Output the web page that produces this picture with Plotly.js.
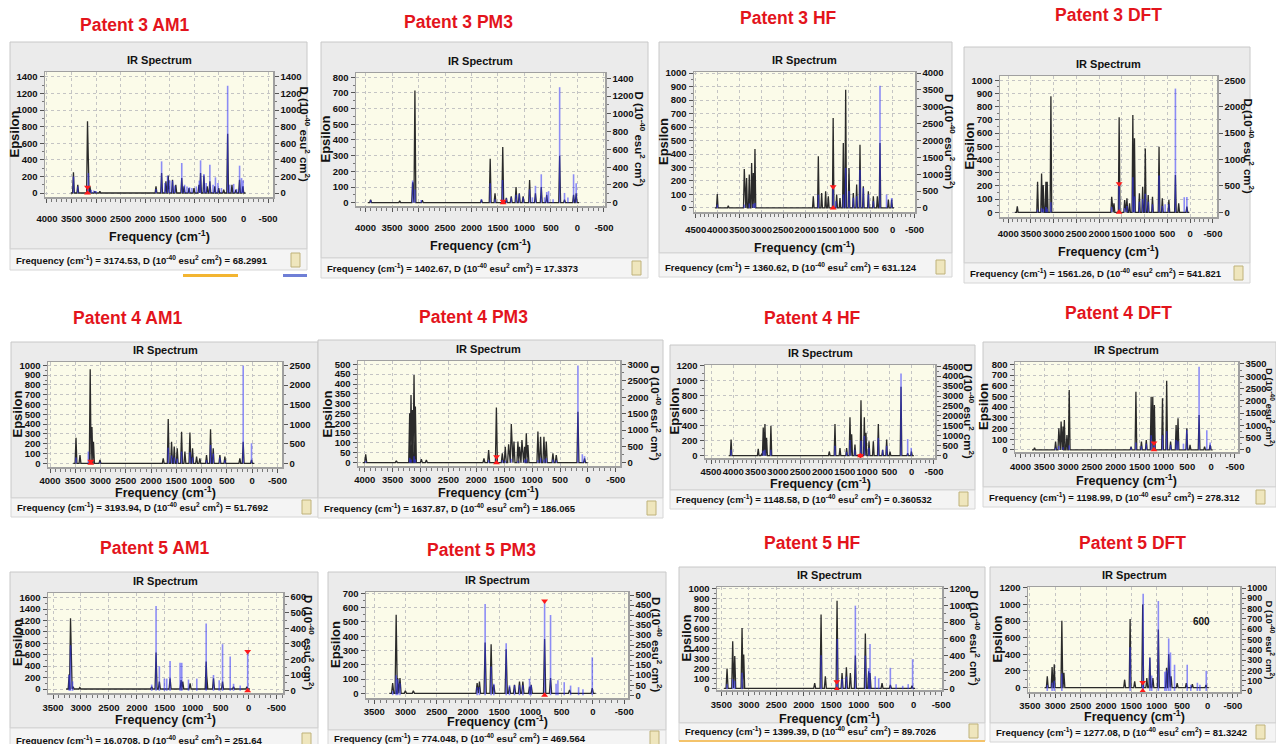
<!DOCTYPE html>
<html><head><meta charset="utf-8">
<script src="https://cdn.plot.ly/plotly-3.0.1.min.js"></script>
<style>html,body{margin:0;padding:0;background:#fff;}#chart{width:1276px;height:744px;}</style>
</head><body><div id="chart"></div>
<script>
// ---------------- DATA ----------------
const panelTitles = ["Patent 3 AM1","Patent 3 PM3","Patent 3 HF","Patent 3 DFT",
                     "Patent 4 AM1","Patent 4 PM3","Patent 4 HF","Patent 4 DFT",
                     "Patent 5 AM1","Patent 5 PM3","Patent 5 HF","Patent 5 DFT"];
const selFreq = [3174.53,1402.67,1360.62,1561.26,3193.94,1637.87,1148.58,1198.99,16.0708,774.048,1399.39,1277.08];
const selD    = [68.2991,17.3373,631.124,541.821,51.7692,186.065,0.360532,278.312,251.64,469.564,89.7026,81.3242];

// Patent 3 AM1
const p3am1_peakFreq = [3461,3373,3175,3125,3024,2923,1781,1667,1579,1532,1445,1378,1257,1210,1109,1008,907,874,806,739,685,585,504,403,323,235,155,81,13];
const p3am1_peakEps  = [249,100,865,80,20,20,80,240,140,210,160,100,180,80,60,60,100,240,210,80,140,80,60,40,715,100,40,160,80];
const p3am1_stickFreq = [3461,3373,3175,3160,3100,3050,3000,1781,1667,1600,1545,1500,1445,1400,1257,1200,1150,1100,1050,960,900,874,806,760,685,620,571,520,450,323,280,200,140,80,40,10];
const p3am1_stickD    = [200,80,68,240,40,30,25,50,382,120,209,150,150,90,362,100,80,70,60,80,150,394,230,120,342,100,189,120,60,1294,100,110,50,330,180,150];
// Patent 3 PM3
const p3pm3_peakFreq = [3904,3355,3111,3068,2928,1812,1647,1556,1410,1342,1250,1159,1098,1025,903,793,683,580,336,244,73,24];
const p3pm3_peakEps  = [20,12,130,715,15,20,280,60,355,30,40,100,60,40,145,60,100,50,300,20,50,60];
const p3pm3_stickFreq = [3904,3111,3068,2950,1812,1647,1556,1415,1403,1342,1250,1159,1098,1025,903,850,793,683,620,580,545,460,336,244,180,73,24];
const p3pm3_stickD    = [30,250,150,30,40,220,40,255,17,50,60,90,100,60,150,60,190,320,60,120,130,40,1300,110,60,320,220];
// Patent 3 HF
const p3hf_peakFreq = [4008,3757,3391,3338,3277,3223,3185,3147,1814,1699,1623,1532,1471,1360,1280,1204,1128,1074,998,899,823,747,671,556,442,350,290,99,23];
const p3hf_peakEps  = [104,17,289,222,247,333,259,437,86,383,111,123,86,667,99,74,481,877,296,111,173,469,160,123,86,86,481,62,62];
const p3hf_stickFreq = [4008,3391,3277,3185,3147,1699,1361,1300,1128,1074,998,899,823,747,671,556,442,290,140,23];
const p3hf_stickD    = [100,100,130,120,150,395,631,200,400,1186,500,300,350,1136,600,400,200,3625,395,296];
// Patent 3 DFT
const p3dft_peakFreq = [3800,3354,3266,3230,3171,3142,3061,1725,1674,1561,1440,1390,1332,1260,1224,1116,1044,986,922,828,684,612,468,324,252,72];
const p3dft_peakEps  = [45,232,295,207,232,232,879,118,68,720,93,106,68,736,560,144,194,484,131,118,496,106,93,282,68,43];
const p3dft_stickFreq = [3354,3266,3230,3171,3142,3061,1725,1561,1440,1390,1260,1224,1116,1044,986,922,828,684,612,550,468,324,130,72];
const p3dft_stickD    = [50,80,60,100,70,190,100,542,80,120,665,300,200,250,350,200,150,696,120,150,150,2342,285,290];
// Patent 4 AM1
const p4am1_peakFreq = [3486,3407,3205,3170,3140,3012,1760,1661,1595,1542,1483,1397,1331,1232,1180,1100,1035,903,824,771,639,540,244,178,13];
const p4am1_peakEps  = [261,85,960,370,220,34,51,451,220,170,153,322,119,315,153,68,51,85,346,153,85,68,51,220,34];
const p4am1_stickFreq = [3486,3242,3194,3012,1661,1595,1542,1483,1397,1232,1180,903,824,771,639,540,178,13];
const p4am1_stickD    = [150,300,52,40,400,200,150,120,300,280,150,80,469,250,150,80,2499,512];
// Patent 4 PM3
const p4pm3_peakFreq = [3982,3433,3194,3170,3146,3116,3092,2985,2895,1863,1779,1640,1534,1481,1421,1373,1325,1254,1224,1182,1134,1104,1075,896,848,788,746,627,567,179,60];
const p4pm3_peakEps  = [42,10,251,344,268,446,285,17,14,22,64,280,47,81,93,197,107,107,81,115,81,149,90,158,132,132,107,47,39,259,22];
const p4pm3_stickFreq = [3982,3194,3170,3116,3092,1779,1638,1534,1481,1373,1254,1134,1104,896,848,788,746,627,567,179,100,60];
const p4pm3_stickD    = [50,150,100,200,100,80,186,80,60,120,60,80,120,80,150,100,140,100,70,2970,260,200];
// Patent 4 HF
const p4hf_peakFreq = [4050,3441,3366,3329,3291,3254,3157,1848,1720,1608,1459,1384,1346,1272,1137,1062,1025,957,860,748,651,561,486,239,90,5];
const p4hf_peakEps  = [215,92,18,376,421,238,398,55,421,101,101,513,284,147,742,513,307,192,192,421,78,215,55,920,32,55];
const p4hf_stickFreq = [4050,3329,3291,3157,1720,1459,1384,1272,1148,1137,1062,957,748,651,561,239,90,10];
const p4hf_stickD    = [300,250,300,300,505,200,800,300,0.36,758,1000,400,900,300,500,4130,842,400];
// Patent 4 DFT
const p4dft_peakFreq = [3706,3264,3196,3148,3108,3080,3026,2978,1680,1578,1462,1360,1258,1224,1190,1020,932,850,734,694,510,442,252,136,20];
const p4dft_peakEps  = [22,78,202,265,218,280,140,560,31,545,78,93,498,498,420,483,647,78,233,296,202,47,327,31,47];
const p4dft_stickFreq = [3264,3196,3108,2978,1680,1578,1462,1360,1258,1199,1190,1020,932,850,734,694,580,510,252,90,20];
const p4dft_stickD    = [80,150,100,180,100,300,150,250,595,278,200,595,760,200,400,350,250,800,3388,802,300];
// Patent 5 AM1
const p5am1_peakFreq = [3211,3187,3140,3020,1734,1656,1597,1405,1208,1178,1047,759,748,628,466,269,30];
const p5am1_peakEps  = [257,1238,41,23,41,640,128,187,158,128,99,479,216,187,128,41,41];
const p5am1_stickFreq = [3211,3187,3150,1734,1656,1597,1507,1465,1405,1226,1196,1076,927,759,628,526,466,329,269,150,16];
const p5am1_stickD    = [101,291,60,40,542,157,78,78,190,179,179,72,78,430,101,67,298,219,45,34,252];
// Patent 5 PM3
const p5pm3_peakFreq = [3206,3150,3126,3089,3003,2875,1854,1817,1726,1630,1587,1389,1336,1256,1176,1122,1015,989,774,679,374,11];
const p5pm3_peakEps  = [71,550,107,107,17,17,71,83,356,344,59,309,47,59,83,83,47,59,380,107,24,36];
const p5pm3_stickFreq = [3206,3150,3126,3089,1854,1817,1726,1630,1587,1389,1336,1256,1176,1122,1015,989,774,679,590,561,460,358,230,160,11];
const p5pm3_stickD    = [20,100,80,60,40,40,455,143,57,259,50,50,50,50,82,50,470,400,57,74,65,48,40,30,189];
// Patent 5 HF
const p5hf_peakFreq = [3397,3294,3257,3124,3094,1802,1686,1608,1395,1304,1225,1153,1062,880,819,795,576,425,30];
const p5hf_peakEps  = [197,470,322,603,339,51,739,119,875,153,210,153,329,549,170,153,51,34,27];
const p5hf_stickFreq = [3397,3294,3257,3124,1686,1399,1390,1304,1225,1062,880,819,795,700,637,425,320,200,100,20];
const p5hf_stickD    = [60,120,100,195,405,90,600,120,150,997,400,250,539,154,130,255,60,40,60,357];
// Patent 5 DFT
const p5dft_peakFreq = [3157,3062,3020,2870,2829,1633,1525,1435,1277,1196,1136,1076,969,807,765,718,598,419,299,30];
const p5dft_peakEps  = [136,247,279,805,177,95,826,74,1000,115,362,115,700,238,403,136,53,53,41,33];
const p5dft_stickFreq = [3157,3062,3020,2870,1525,1277,1268,1136,1100,969,840,807,765,730,650,400,330,200,150,25];
const p5dft_stickD    = [60,80,100,170,425,81,945,323,150,874,187,200,510,374,255,255,60,80,60,197];

// ---------------- LAYOUT GEOMETRY (pixels) ----------------
const PEAKF=[p3am1_peakFreq,p3pm3_peakFreq,p3hf_peakFreq,p3dft_peakFreq,p4am1_peakFreq,p4pm3_peakFreq,p4hf_peakFreq,p4dft_peakFreq,p5am1_peakFreq,p5pm3_peakFreq,p5hf_peakFreq,p5dft_peakFreq];
const PEAKE=[p3am1_peakEps,p3pm3_peakEps,p3hf_peakEps,p3dft_peakEps,p4am1_peakEps,p4pm3_peakEps,p4hf_peakEps,p4dft_peakEps,p5am1_peakEps,p5pm3_peakEps,p5hf_peakEps,p5dft_peakEps];
const STKF=[p3am1_stickFreq,p3pm3_stickFreq,p3hf_stickFreq,p3dft_stickFreq,p4am1_stickFreq,p4pm3_stickFreq,p4hf_stickFreq,p4dft_stickFreq,p5am1_stickFreq,p5pm3_stickFreq,p5hf_stickFreq,p5dft_stickFreq];
const STKD=[p3am1_stickD,p3pm3_stickD,p3hf_stickD,p3dft_stickD,p4am1_stickD,p4pm3_stickD,p4hf_stickD,p4dft_stickD,p5am1_stickD,p5pm3_stickD,p5hf_stickD,p5dft_stickD];

const GEO = [
 {box:[10,42,307,249], plot:[45,72,273,197], t:[135,25], foot:260, xr:[4040,-600], yr:[-48,1460], yd:200, y2r:[-48,1460], y2d:200, tl:217, xt:236, dl:305},
 {box:[321,42,648,258], plot:[356,73,605,206], t:[458,22], foot:268, xr:[4180,-520], yr:[-21,827], yd:100, y2r:[-37,1460], y2d:200, tl:226, xt:245, dl:640},
 {box:[659,42,952,253], plot:[694,72,915,212], t:[788,18], foot:267, xr:[4540,-510], yr:[-30,1008], yd:100, y2r:[-120,4030], y2d:500, tl:228, xt:247, dl:950},
 {box:[964,47,1250,263], plot:[1000,76,1217,217], t:[1108,15], foot:273, xr:[4180,-590], yr:[-35,1032], yd:100, y2r:[-90,2580], y2d:500, tl:232, xt:251, dl:1249},
 {box:[11,342,318,498], plot:[48,362,282,467], t:[128,318], foot:507, xr:[4040,-590], yr:[-38,1034], yd:100, y2r:[-95,2590], y2d:500, tl:478, xt:492, dl:null},
 {box:[318,340,663,498], plot:[358,361,620,466], t:[473,317], foot:508, xr:[4120,-575], yr:[-17,517], yd:50, y2r:[-100,3110], y2d:500, tl:478, xt:492, dl:656},
 {box:[670,345,975,490], plot:[705,365,935,458], t:[812,318], foot:499, xr:[4635,-523], yr:[-32,1212], yd:200, y2r:[-110,4560], y2d:500, tl:469, xt:483, dl:969},
 {box:[983,342,1276,487], plot:[1015,362,1238,452], t:[1118,313], foot:497, xr:[4116,-565], yr:[-19,822], yd:100, y2r:[-90,3580], y2d:500, tl:465, xt:480, dl:1270},
 {box:[10,572,318,728], plot:[48,593,283,693], t:[155,548], foot:740, xr:[3590,-616], yr:[-70,1680], yd:200, y2r:[-14,625], y2d:100, tl:706, xt:719, dl:309},
 {box:[328,572,666,730], plot:[366,592,628,698], t:[481,550], foot:738, xr:[3633,-561], yr:[-33,710], yd:100, y2r:[-14,515], y2d:50, tl:708, xt:721, dl:657},
 {box:[679,567,985,723], plot:[717,587,942,690], t:[812,543], foot:731, xr:[3580,-515], yr:[-17,1013], yd:100, y2r:[-10,1220], y2d:200, tl:703, xt:718, dl:975},
 {box:[990,567,1276,723], plot:[1028,587,1240,692], t:[1132,543], foot:732, xr:[3537,-640], yr:[-53,1210], yd:200, y2r:[-10,1010], y2d:100, tl:702, xt:716, dl:1270}
];

const W=1276, H=744;
const px = x => x/W, py = y => 1 - y/H;
const FONT = 'Liberation Sans, Arial, sans-serif';
const HALFW = 18;

function spectrumLine(freqs, eps){
  const idx = freqs.map((f,k)=>k).sort((a,b)=>freqs[b]-freqs[a]);
  const xs=[], ys=[];
  xs.push(freqs[idx[0]]+3*HALFW); ys.push(0);
  idx.forEach(k=>{ xs.push(freqs[k]+HALFW, freqs[k], freqs[k]-HALFW); ys.push(0, eps[k], 0); });
  xs.push(freqs[idx[idx.length-1]]-3*HALFW); ys.push(0);
  return {xs, ys};
}
function sticks(freqs, vals){
  const xs=[], ys=[];
  freqs.forEach((f,k)=>{ xs.push(f,f,null); ys.push(0,vals[k],null); });
  return {xs, ys};
}
function xTicks(range){
  const hi=Math.max(range[0],range[1]), lo=Math.min(range[0],range[1]);
  const v=[]; for(let t=Math.floor(hi/500)*500; t>=lo; t-=500) v.push(t);
  return v;
}

const data=[];
const layout={width:W,height:H,margin:{l:0,r:0,t:0,b:0,pad:0},paper_bgcolor:'#ffffff',plot_bgcolor:'rgba(0,0,0,0)',
  showlegend:false,shapes:[],annotations:[],font:{family:FONT,color:'#111'},hovermode:false};

GEO.forEach((g,i)=>{
  const n=i+1;
  const xa = n===1?'x':'x'+n;
  const yl=2*i+1, yr=2*i+2;
  const yaL = yl===1?'y':'y'+yl, yaR='y'+yr;
  const xKey='xaxis'+(n===1?'':n), yKeyL='yaxis'+(yl===1?'':yl), yKeyR='yaxis'+yr;
  const tickFont={family:FONT,size:9.5,color:'#111',weight:700};
  const so=Math.max(0,(g.tl-g.plot[3])-12);
  const tv=xTicks(g.xr);
  layout[xKey]={domain:[px(g.plot[0]),px(g.plot[2])],anchor:yaL,range:g.xr,tickmode:'array',tickvals:tv,ticktext:tv.map(String),tickangle:0,
    showgrid:true,gridcolor:'#c4c4c4',griddash:'dot',gridwidth:1,zeroline:false,
    showline:true,linecolor:'#a0a0a0',linewidth:1.5,mirror:true,
    ticks:'outside',ticklen:4,tickcolor:'#555',tickwidth:1,
    minor:{ticks:'outside',tickmode:'linear',tick0:0,dtick:100,ticklen:3,tickcolor:'#777',showgrid:false},
    tickfont:tickFont,ticklabelstandoff:so,fixedrange:true};
  layout[yKeyL]={domain:[py(g.plot[3]),py(g.plot[1])],anchor:xa,range:g.yr,tick0:0,dtick:g.yd,
    showgrid:true,gridcolor:'#c4c4c4',griddash:'dot',gridwidth:1,zeroline:false,
    showline:true,linecolor:'#a0a0a0',linewidth:1.5,
    ticks:'outside',ticklen:4,tickcolor:'#555',
    minor:{ticks:'outside',dtick:g.yd/2,ticklen:2,tickcolor:'#777',showgrid:false},
    tickfont:tickFont,fixedrange:true};
  layout[yKeyR]={overlaying:yaL,side:'right',anchor:xa,range:g.y2r,tick0:0,dtick:g.y2d,
    showgrid:false,zeroline:false,showline:true,linecolor:'#a0a0a0',linewidth:1.5,
    ticks:'outside',ticklen:4,tickcolor:'#555',
    minor:{ticks:'outside',dtick:g.y2d/2,ticklen:2,tickcolor:'#777'},
    tickfont:(n===12?{family:FONT,size:9,color:'#111',weight:700}:tickFont),fixedrange:true};

  const sp=spectrumLine(PEAKF[i],PEAKE[i]);
  data.push({type:'scatter',mode:'lines',x:sp.xs,y:sp.ys,xaxis:xa,yaxis:yaL,line:{color:'#2a2a2a',width:1.3},hoverinfo:'skip'});
  const st=sticks(STKF[i],STKD[i]);
  data.push({type:'scatter',mode:'lines',x:st.xs,y:st.ys,xaxis:xa,yaxis:yaR,line:{color:'rgba(50,50,255,0.55)',width:1.6},hoverinfo:'skip'});
  data.push({type:'scatter',mode:'markers',x:[selFreq[i],selFreq[i]],y:[selD[i],0],xaxis:xa,yaxis:yaR,cliponaxis:false,
    marker:{symbol:['triangle-down','triangle-up'],color:'#ff1a1a',size:6},hoverinfo:'skip'});

  // background shapes
  const b=g.box;
  layout.shapes.push({type:'rect',xref:'paper',yref:'paper',layer:'below',x0:px(b[0]),x1:px(b[2]),y0:py(b[3]),y1:py(b[1]),fillcolor:'#ebebeb',line:{color:'#c8c8c8',width:1}});
  layout.shapes.push({type:'rect',xref:'paper',yref:'paper',layer:'below',x0:px(b[0]),x1:px(b[2]),y0:py(g.foot+10),y1:py(b[3]),fillcolor:'#f4f4f4',line:{color:'#d6d6d6',width:1}});
  layout.shapes.push({type:'rect',xref:'paper',yref:'paper',layer:'below',x0:px(g.plot[0]),x1:px(g.plot[2]),y0:py(g.plot[3]),y1:py(g.plot[1]),fillcolor:'#fbfbe9',line:{width:0}});
  layout.shapes.push({type:'rect',xref:'paper',yref:'paper',layer:'below',x0:px(Math.min(b[2],1272)-16),x1:px(Math.min(b[2],1272)-7),y0:py(g.foot+7),y1:py(g.foot-7),fillcolor:'#efe6bd',line:{color:'#bfb27a',width:1}});

  const ann=(x,y,text,opts)=>layout.annotations.push(Object.assign({xref:'paper',yref:'paper',x:px(x),y:py(y),text:text,showarrow:false,xanchor:'center',yanchor:'middle'},opts||{}));
  ann(g.t[0],g.t[1],panelTitles[i],{font:{family:FONT,size:17.5,color:'#e3141c',weight:700}});
  const cx=(g.plot[0]+g.plot[2])/2, cy=(g.plot[1]+g.plot[3])/2;
  ann(cx,g.plot[1]-12,'IR Spectrum',{font:{family:FONT,size:11,color:'#111',weight:700}});
  ann(g.plot[0]-31,cy,'Epsilon',{textangle:-90,font:{family:FONT,size:13,color:'#111',weight:700}});
  if(g.dl!==null) ann(g.dl,cy,'D (10<sup>-40</sup> esu<sup>2</sup> cm<sup>2</sup>)',{textangle:90,font:{family:FONT,size:(n===8||n===12)?9.5:11.5,color:'#111',weight:700}});
  ann(cx,g.xt,'Frequency (cm<sup>-1</sup>)',{font:{family:FONT,size:12.5,color:'#111',weight:700}});
  ann(b[0]+4,g.foot,'Frequency (cm<sup>-1</sup>) = '+selFreq[i]+', D (10<sup>-40</sup> esu<sup>2</sup> cm<sup>2</sup>) = '+selD[i],
      {xanchor:'left',font:{family:FONT,size:9.5,color:'#111',weight:700}});
});

// small extra text and decorations seen in the reference
layout.annotations.push({xref:'paper',yref:'paper',x:px(1212),y:py(629),text:'600',showarrow:false,font:{family:FONT,size:10,color:'#111',weight:700}});
layout.shapes.push({type:'rect',xref:'paper',yref:'paper',x0:px(183),x1:px(238),y0:py(277),y1:py(274),fillcolor:'#f3b531',line:{width:0}});
layout.shapes.push({type:'rect',xref:'paper',yref:'paper',x0:px(283),x1:px(307),y0:py(277),y1:py(274),fillcolor:'#6f7fd6',line:{width:0}});
layout.shapes.push({type:'rect',xref:'paper',yref:'paper',x0:px(679),x1:px(985),y0:py(742),y1:py(740),fillcolor:'#f4c36a',line:{width:0}});

Plotly.newPlot('chart',data,layout,{staticPlot:true,displayModeBar:false});
</script></body></html>
